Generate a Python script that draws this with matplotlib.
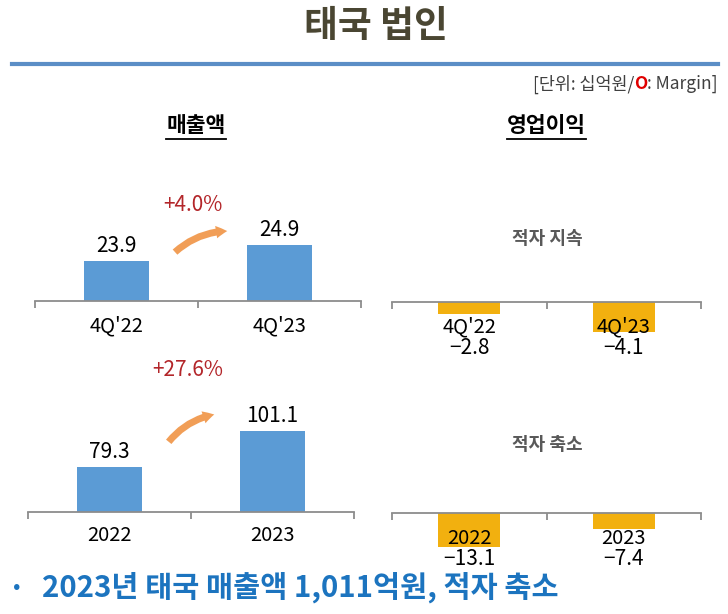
import matplotlib.pyplot as plt
from matplotlib.patches import FancyArrowPatch
from matplotlib.lines import Line2D

plt.rcParams['font.family'] = ['Noto Sans CJK KR', 'DejaVu Sans']

# 데이터
q_labels = ["4Q'22", "4Q'23"]
q_sales = [23.9, 24.9]
q_profit = [-2.8, -4.1]
y_labels = ["2022", "2023"]
y_sales = [79.3, 101.1]
y_profit = [-13.1, -7.4]
q_growth = "+4.0%"
y_growth = "+27.6%"

W, H = 728, 614
BLUE = "#5b9bd5"
ORANGE = "#f2b00f"
GRAY = "#8c8c8c"
NUM_FS = 15
CAT_FS = 14.5

fig = plt.figure(figsize=(W / 100, H / 100), dpi=100)


def rect(x0, y0, x1, y1):
    # pixels (haut-gauche) -> fraction de figure
    return [x0 / W, 1 - y1 / H, (x1 - x0) / W, (y1 - y0) / H]


def fx(x, y):
    return (x / W, 1 - y / H)


def fmt(v):
    return f"{v:.1f}".replace("-", "\u2212")


def base_axes(r, ylim, spine):
    ax = fig.add_axes(r)
    ax.patch.set_alpha(0)
    for s in ax.spines.values():
        s.set_visible(False)
    ax.spines[spine].set_visible(True)
    ax.spines[spine].set_color(GRAY)
    ax.spines[spine].set_linewidth(1.3)
    ax.set_xlim(-0.5, 1.5)
    ax.set_ylim(*ylim)
    ax.set_yticks([])
    ax.set_xticks([-0.5, 0.5, 1.5])
    ax.set_xticklabels([])
    if spine == "top":
        ax.tick_params(axis="x", bottom=False, top=True, direction="in",
                       length=5, width=1.3, color=GRAY)
    else:
        ax.tick_params(axis="x", direction="out", length=5, width=1.3, color=GRAY)
    return ax


def sales_chart(r, ylim, labels, vals, pad):
    ax = base_axes(r, ylim, "bottom")
    ax.bar(range(len(vals)), vals, width=0.4, color=BLUE)
    for i, v in enumerate(vals):
        ax.annotate(fmt(v), (i, v), xytext=(0, 3), textcoords="offset points",
                    ha="center", va="bottom", fontsize=NUM_FS)
        ax.annotate(labels[i], (i, 0), xycoords=ax.get_xaxis_transform(),
                    xytext=(0, -pad), textcoords="offset points",
                    ha="center", va="center", fontsize=CAT_FS)
    return ax


def profit_chart(r, ylim, labels, vals):
    ax = base_axes(r, ylim, "top")
    ax.bar(range(len(vals)), vals, width=0.4, color=ORANGE)
    for i, v in enumerate(vals):
        ax.annotate(labels[i], (i, 1), xycoords=ax.get_xaxis_transform(),
                    xytext=(0, -18), textcoords="offset points",
                    ha="center", va="center", fontsize=CAT_FS)
        ax.annotate(fmt(v), (i, 1), xycoords=ax.get_xaxis_transform(),
                    xytext=(0, -33), textcoords="offset points",
                    ha="center", va="center", fontsize=NUM_FS)
    return ax


sales_chart(rect(35, 180, 361, 301), (21.4, 21.4 + 121 / 16), q_labels, q_sales, 18)
sales_chart(rect(28, 380, 354, 512), (52.05, 52.05 + 132 / 1.651), y_labels, y_sales, 17)
profit_chart(rect(392, 302, 701, 362), (-1.93 - 60 / 13.85, -1.93), q_labels, q_profit)
profit_chart(rect(392, 513, 701, 573), (-2.33 - 60 / 3.158, -2.33), y_labels, y_profit)

# Titre et ligne
fig.text(*fx(376, 26), "태국 법인", ha="center", va="center", fontsize=26.5,
         fontweight="bold", color="#4a4632")
fig.add_artist(Line2D([12 / W, 718 / W], [1 - 64 / H] * 2, color="#5b8ec6", lw=3))

# Unité
r = fig.canvas.get_renderer()
x = 718
for txt, c in [(": Margin]", "#404040"), ("O", "#e00000"), ("[단위: 십억원/", "#404040")]:
    t = fig.text(*fx(x, 84), txt, ha="right", va="center", fontsize=12.5, color=c,
                 fontweight="bold" if txt == "O" else "normal")
    x -= t.get_window_extent(r).width

# Sous-titres soulignés
for xc, txt in [(196, "매출액"), (546, "영업이익")]:
    t = fig.text(*fx(xc, 126), txt, ha="center", va="center", fontsize=15.5,
                 fontweight="bold")
    w = t.get_window_extent(r).width
    fig.add_artist(Line2D([(xc - w / 2) / W, (xc + w / 2) / W], [1 - 139 / H] * 2,
                          color="black", lw=1.3))

# Taux de croissance et flèches
fig.text(*fx(193, 205), q_growth, ha="center", va="center", fontsize=NUM_FS, color="#b3262a")
fig.text(*fx(188, 370), y_growth, ha="center", va="center", fontsize=NUM_FS, color="#b3262a")
for p0, p1 in [((173, 254), (230, 231)), ((167, 444), (217, 414))]:
    fig.add_artist(FancyArrowPatch(fx(*p0), fx(*p1), transform=fig.transFigure,
                                   connectionstyle="arc3,rad=-0.2",
                                   arrowstyle="simple,head_width=9,head_length=8,tail_width=5",
                                   color="#f09445", alpha=0.9, lw=0))

# Annotations 영업이익
fig.text(*fx(547, 239), "적자 지속", ha="center", va="center", fontsize=13,
         fontweight="bold", color="#595959")
fig.text(*fx(547, 445), "적자 축소", ha="center", va="center", fontsize=13,
         fontweight="bold", color="#595959")

# Conclusion
fig.text(*fx(17, 588), "•", ha="center", va="center", fontsize=16, color="#1c74bf")
fig.text(*fx(42, 587), "2023년 태국 매출액 1,011억원, 적자 축소", ha="left", va="center",
         fontsize=21.2, fontweight="bold", color="#1c74bf")

fig.savefig("out.png", dpi=100)
